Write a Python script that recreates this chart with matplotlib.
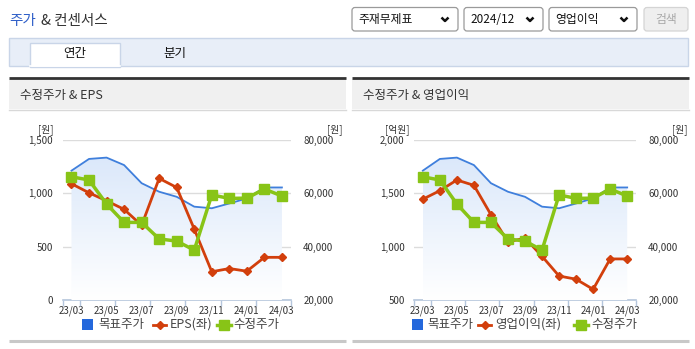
import numpy as np
import matplotlib
matplotlib.use("Agg")
import matplotlib.pyplot as plt
from matplotlib.patches import Rectangle, FancyBboxPatch
from matplotlib.colors import LinearSegmentedColormap
from matplotlib.ticker import FuncFormatter

plt.rcParams['font.family'] = ['Noto Sans CJK KR', 'DejaVu Sans']

# data
months = ['23/03', '23/04', '23/05', '23/06', '23/07', '23/08', '23/09',
          '23/10', '23/11', '23/12', '24/01', '24/02', '24/03']
target_price = [68500, 72900, 73400, 70600, 63800, 60600, 58700,
                55000, 54400, 56200, 58100, 62200, 62200]
adj_price = [66200, 65000, 56000, 49100, 49100, 42900, 42100,
             38700, 59400, 58100, 58200, 61600, 59000]
eps = [1090, 1005, 930, 850, 700, 1140, 1055, 665, 265, 295, 270, 400, 400]
op_profit = [1445, 1525, 1625, 1575, 1300, 1045, 1080, 910, 725, 695, 600, 885, 885]

eps_ticks = [0, 500, 1000, 1500]
op_ticks = [500, 1000, 1500, 2000]
price_ticks = [20000, 40000, 60000, 80000]

BLUE = '#3f7fdc'
RED = '#d23f0c'
GREEN = '#88c417'
TXT = '#333333'

W, H = 695, 349
fig = plt.figure(figsize=(W / 100, H / 100), dpi=100)
bg = fig.add_axes([0, 0, 1, 1])
bg.set_xlim(0, W)
bg.set_ylim(H, 0)
bg.axis('off')


def px_axes(x0, y0, x1, y1):
    return fig.add_axes([x0 / W, 1 - y1 / H, (x1 - x0) / W, (y1 - y0) / H])


# ---- page header ----
bg.text(9, 21.5, '주가', color='#2f5fc8', fontsize=10.5, va='center', ha='left')
bg.text(41, 21.5, '& 컨센서스', color='#333333', fontsize=10.5, va='center', ha='left')

boxes = [(352, 458, '주재무제표'), (464, 543, '2024/12'), (549, 637, '영업이익')]
for x0, x1, label in boxes:
    bg.add_patch(FancyBboxPatch((x0, 7.5), x1 - x0, 23.5, boxstyle='round,pad=0,rounding_size=3',
                                facecolor='white', edgecolor='#9a9a9a', lw=0.9))
    bg.text(x0 + 6, 19.5, label, fontsize=8.5, va='center', ha='left', color='#111111')
    cx = x1 - 13
    bg.plot([cx - 3.5, cx, cx + 3.5], [17.5, 21, 17.5], color='#111111', lw=1.8,
            solid_capstyle='butt')
bg.add_patch(FancyBboxPatch((644, 7.5), 44, 23.5, boxstyle='round,pad=0,rounding_size=3',
                            facecolor='#efefef', edgecolor='#d4d4d4', lw=0.9))
bg.text(666, 19.5, '검색', fontsize=8.5, va='center', ha='center', color='#a8a8a8')

# tab bar
bg.add_patch(Rectangle((9, 37.5), 679, 28.5, facecolor='#e8eef8', edgecolor='#c9d5e8', lw=1))
bg.add_patch(Rectangle((29.5, 42.5), 90.5, 24, facecolor='white', edgecolor='#c9d5e8', lw=1))
bg.plot([30, 119.5], [66, 66], color='white', lw=1.2)
bg.text(75, 53.5, '연간', fontsize=9, va='center', ha='center', color='#111111')
bg.text(175, 53.5, '분기', fontsize=9, va='center', ha='center', color='#111111')


def draw_panel(px0, px1, title):
    bg.add_patch(Rectangle((px0, 79), px1 - px0, 30, facecolor='#f0f0f0', edgecolor='none'))
    bg.plot([px0, px1], [78, 78], color='#333333', lw=2, solid_capstyle='butt')
    bg.plot([px0, px1], [109.5, 109.5], color='#d8d8d8', lw=1)
    bg.plot([px0, px1], [340.5, 340.5], color='#c8c8c8', lw=2.2, solid_capstyle='butt')
    bg.text(px0 + 11, 95, title, fontsize=9, va='center', ha='left', color='#333333')


def draw_chart(x0, x1, left_vals, left_ticks, left_unit, left_name, legend_x, red_x):
    ax = px_axes(x0, 140, x1, 300)
    x = np.arange(len(months))
    ax.set_xlim(-0.5, len(months) - 0.5)
    ax.set_ylim(left_ticks[0], left_ticks[-1])
    ax.set_yticks(left_ticks)
    ax.yaxis.set_major_formatter(FuncFormatter(lambda v, p: '{:,.0f}'.format(v)))
    ax.grid(axis='y', color='#dcdcdc', lw=1)
    ax.set_axisbelow(True)
    ax.tick_params(axis='y', length=0, pad=7, labelsize=7, labelcolor=TXT)
    ax.set_xticks(x[::2])
    ax.set_xticklabels(months[::2])
    ax.set_xticks(np.r_[-0.5, np.arange(0.5, 11, 2), len(months) - 0.5], minor=True)
    ax.tick_params(axis='x', which='major', length=0, pad=4, labelsize=7, labelcolor=TXT)
    ax.tick_params(axis='x', which='minor', length=4, color='#b5c6dc', width=1)
    for s in ['top', 'left', 'right']:
        ax.spines[s].set_visible(False)
    ax.spines['bottom'].set_color('#b5c6dc')
    ax.spines['bottom'].set_linewidth(1.2)
    ax.patch.set_visible(False)

    # right scale: target price with gradient fill
    ax2 = ax.twinx()
    ax2.set_ylim(price_ticks[0], price_ticks[-1])
    ax2.set_yticks(price_ticks)
    ax2.yaxis.set_major_formatter(FuncFormatter(lambda v, p: '{:,.0f}'.format(v)))
    ax2.tick_params(axis='y', length=0, pad=9, labelsize=7, labelcolor=TXT)
    for s in ax2.spines.values():
        s.set_visible(False)
    poly = ax2.fill_between(x, target_price, price_ticks[0], facecolor='none', edgecolor='none')
    cmap = LinearSegmentedColormap.from_list('fade', ['#ffffff', '#dbe8fa'])
    grad = np.linspace(0, 1, 256).reshape(-1, 1)
    im = ax2.imshow(grad, extent=[0, len(months) - 1, price_ticks[0], max(target_price)],
                    aspect='auto', origin='lower', cmap=cmap, zorder=1)
    im.set_clip_path(poly.get_paths()[0], transform=ax2.transData)
    ax2.plot(x, target_price, color=BLUE, lw=1.3, zorder=2)
    ax2.set_xlim(-0.5, len(months) - 0.5)
    ax2.set_ylim(price_ticks[0], price_ticks[-1])

    # left scale series above the fill
    ax3 = ax.twinx()
    ax3.set_ylim(left_ticks[0], left_ticks[-1])
    ax3.plot(x, left_vals, color=RED, lw=2, marker='D', markersize=4.2)
    ax3.axis('off')

    # adjusted price on top
    ax4 = ax.twinx()
    ax4.set_ylim(price_ticks[0], price_ticks[-1])
    ax4.plot(x, adj_price, color=GREEN, lw=2.5, marker='s', markersize=7)
    ax4.axis('off')
    for a in (ax3, ax4):
        a.set_xlim(-0.5, len(months) - 0.5)

    bg.text(x0 - 17, 130, left_unit, fontsize=7, ha='center', va='center', color=TXT)
    bg.text(x1 + 44, 130, '[원]', fontsize=7, ha='center', va='center', color=TXT)

    # legend
    lx, ly = legend_x, 324.5
    bg.add_patch(Rectangle((lx, ly - 5.5), 11, 11, facecolor='#2468dc', edgecolor='none'))
    bg.text(lx + 16, ly, '목표주가', fontsize=9, va='center', ha='left', color='#444444')
    bg.plot([red_x, red_x + 13], [ly, ly], color=RED, lw=2)
    bg.plot([red_x + 6.5], [ly], marker='D', color=RED, markersize=4.2)
    bg.text(red_x + 17, ly, left_name, fontsize=9, va='center', ha='left', color='#444444')


draw_panel(9, 346, '수정주가 & EPS')
draw_panel(352, 689, '수정주가 & 영업이익')

draw_chart(62.7, 290.7, eps, eps_ticks, '[원]', 'EPS(좌)', 82, 153)
draw_chart(414.3, 635.7, op_profit, op_ticks, '[억원]', '영업이익(좌)', 411.5, 478)

# green legend entries
for gx in (216.5, 574):
    bg.plot([gx, gx + 14], [324.5, 324.5], color=GREEN, lw=2.5)
    bg.plot([gx + 7], [324.5], marker='s', color=GREEN, markersize=7)
    bg.text(gx + 17, 324.5, '수정주가', fontsize=9, va='center', ha='left', color='#444444')

fig.savefig('out.png', dpi=100)
